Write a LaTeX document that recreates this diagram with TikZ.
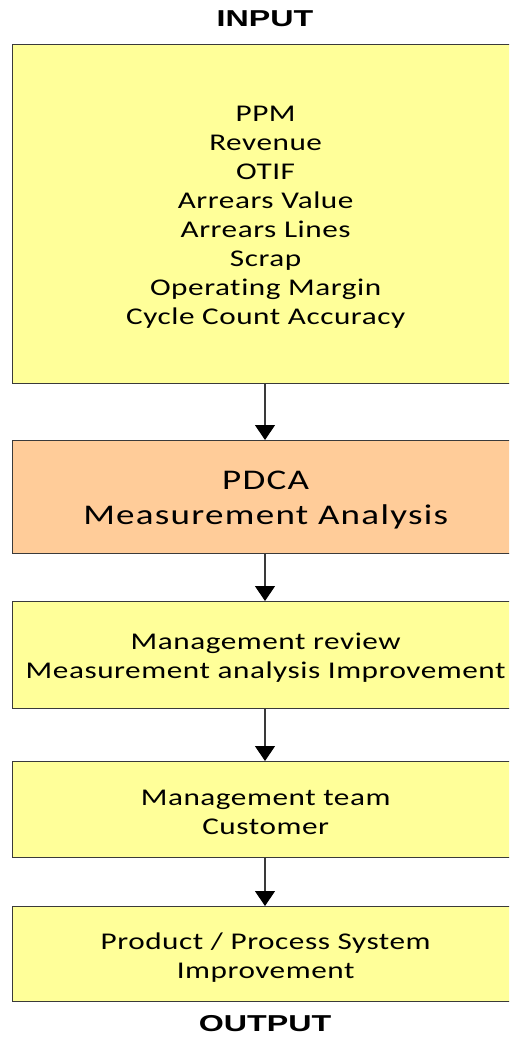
\documentclass[tikz,border=0pt]{standalone}
\usepackage{fontspec}
\setmainfont{Carlito}[FakeStretch=1.3, Ligatures=NoCommon]
\newfontfamily\labelfont{Liberation Sans}[FakeStretch=1.4]
\usetikzlibrary{arrows.meta}
\definecolor{boxyellow}{HTML}{FFFF99}
\definecolor{boxorange}{HTML}{FFCC99}
\definecolor{linegray}{HTML}{3A3A3A}
\tikzset{
  box/.style={draw=linegray, line width=1.3pt, rectangle, anchor=north west,
    minimum width=507pt, inner sep=0pt},
  yellowbox/.style={box, fill=boxyellow},
  orangebox/.style={box, fill=boxorange},
  boxtext/.style={align=center, inner sep=0pt, yshift=-3pt,
    font=\fontsize{24}{29}\selectfont\addfontfeatures{LetterSpace=2.3}},
  bigtext/.style={boxtext,
    font=\fontsize{28.5}{35}\selectfont\addfontfeatures{LetterSpace=4.5}},
  flow/.style={draw=linegray, line width=1.3pt, -{Triangle[length=15pt,width=20pt,color=black]}},
  heading/.style={font=\labelfont\bfseries\fontsize{23}{27}\selectfont}
}
\begin{document}
\begin{tikzpicture}[x=1pt,y=-1pt]
\useasboundingbox (0,0) rectangle (509,1038);
\clip (0,0) rectangle (509,1038);
\node[heading] (inlabel) at (265,19) {INPUT};
\node[yellowbox, minimum height=339pt] (input) at (11.5,44) {};
\node[boxtext] (inputtext) at (input.center)
  {PPM\\Revenue\\OTIF\\Arrears Value\\Arrears Lines\\Scrap\\Operating Margin\\Cycle Count Accuracy};
\node[orangebox, minimum height=113pt] (pdca) at (11.5,440) {};
\node[bigtext] (pdcatext) at (pdca.center) {PDCA\\Measurement Analysis};
\node[yellowbox, minimum height=107pt] (review) at (11.5,601) {};
\node[boxtext] (reviewtext) at (review.center) {Management review\\Measurement analysis Improvement};
\node[yellowbox, minimum height=96pt] (team) at (11.5,761) {};
\node[boxtext] (teamtext) at (team.center) {Management team\\Customer};
\node[yellowbox, minimum height=95pt] (output) at (11.5,906) {};
\node[boxtext] (outputtext) at (output.center) {Product / Process System\\Improvement};
\node[heading] (outlabel) at (265,1024) {OUTPUT};
\coordinate (c1) at (265,383);
\coordinate (c2) at (265,553);
\coordinate (c3) at (265,708);
\coordinate (c4) at (265,857);
\draw[flow] (c1) -- (c1 |- pdca.north);
\draw[flow] (c2) -- (c2 |- review.north);
\draw[flow] (c3) -- (c3 |- team.north);
\draw[flow] (c4) -- (c4 |- output.north);
\end{tikzpicture}
\end{document}
